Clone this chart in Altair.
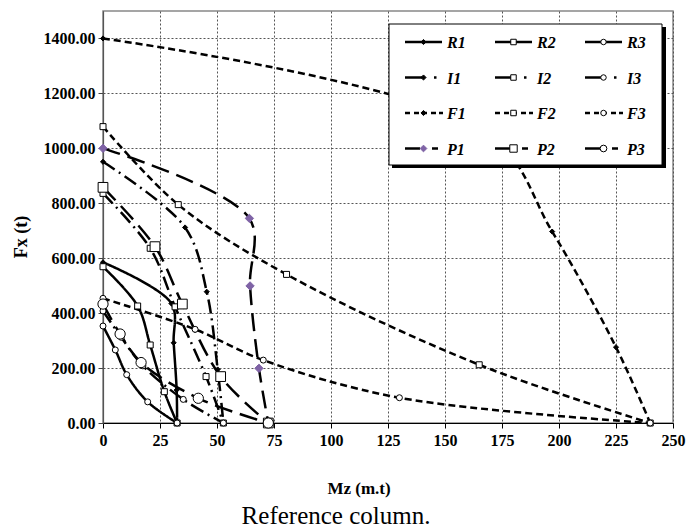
import altair as alt
import pandas as pd

FONT = "Liberation Serif"

SERIES = ["R1", "R2", "R3", "I1", "I2", "I3", "F1", "F2", "F3", "P1", "P2", "P3"]

R1_MZ = [0, 30, 31, 32.3, 32.5]
R1_FX = [585, 435, 292, 120, 0]
R2_MZ = [0, 15.2, 20.7, 26.9, 32.5]
R2_FX = [569, 426, 284, 114, 0]
R3_MZ = [0, 5.4, 10.4, 19.6, 32.5]
R3_FX = [353, 266, 176, 77, 0]
I1_MZ = [0, 36, 45.5, 50.3, 52.8]
I1_FX = [951, 712, 478, 195, 0]
I2_MZ = [0, 20.7, 31.6, 45.2, 52.8]
I2_FX = [836, 636, 423, 169, 0]
I3_MZ = [0, 8, 17.5, 35.2, 52.8]
I3_FX = [408, 312, 208, 86, 0]
F1_MZ = [0, 168, 197, 225, 240]
F1_FX = [1400, 1060, 697, 276, 0]
F2_MZ = [0, 33, 80.5, 165, 240]
F2_FX = [1079, 795, 541, 212, 0]
F3_MZ = [0, 40.4, 70.3, 130, 240]
F3_FX = [454, 341, 229, 92, 0]
P1_MZ = [0, 64.2, 64.5, 68.4, 72.5]
P1_FX = [1000, 745, 499, 199, 0]
P2_MZ = [0, 22.8, 34.8, 51.6, 72.5]
P2_FX = [858, 642, 433, 169, 0]
P3_MZ = [0, 7.5, 16.7, 41.8, 72.5]
P3_FX = [433, 324, 220, 90, 0]

X_TICKS = [0, 25, 50, 75, 100, 125, 150, 175, 200, 225, 250]
Y_TICKS = [0, 200, 400, 600, 800, 1000, 1200, 1400]

DATA = {
    "R1": (R1_MZ, R1_FX), "R2": (R2_MZ, R2_FX), "R3": (R3_MZ, R3_FX),
    "I1": (I1_MZ, I1_FX), "I2": (I2_MZ, I2_FX), "I3": (I3_MZ, I3_FX),
    "F1": (F1_MZ, F1_FX), "F2": (F2_MZ, F2_FX), "F3": (F3_MZ, F3_FX),
    "P1": (P1_MZ, P1_FX), "P2": (P2_MZ, P2_FX), "P3": (P3_MZ, P3_FX),
}

# styles
DASH = {"R": [1, 0], "I": [14, 5, 2, 5], "F": [7, 4], "P": [18, 8]}
PURPLE = "#7f63a6"


def marker_style(s, legend=False):
    fam, num = s[0], s[1]
    shape = {"1": "diamond", "2": "square", "3": "circle"}[num]
    if fam == "P":
        size = {"1": 70, "2": 95, "3": 105}[num]
        if legend:
            size = {"1": 45, "2": 55, "3": 45}[num]
        if num == "1":
            return shape, size, PURPLE, PURPLE
        return shape, size, "white", "black"
    size = {"1": 26, "2": 36, "3": 36}[num]
    if legend:
        size = {"1": 26, "2": 30, "3": 30}[num]
    if num == "1":
        return shape, size, "black", "black"
    return shape, size, "white", "black"


rows = []
for si, s in enumerate(SERIES):
    mz, fx = DATA[s]
    shape, size, fill, stroke = marker_style(s)
    for k, (a, b) in enumerate(zip(mz, fx)):
        rows.append({"series": s, "mz": a, "fx": b, "k": k, "so": si,
                     "shape": shape, "sz": size, "fill": fill, "stroke": stroke})
df = pd.DataFrame(rows)

x_enc = alt.X("mz:Q", scale=alt.Scale(domain=[0, 250], nice=False, zero=False),
              axis=alt.Axis(values=X_TICKS, title=None, labelFont=FONT, labelFontWeight="bold",
                            labelFontSize=16, labelColor="black", labelPadding=4, tickSize=5,
                            tickColor="black", domainColor="black", domainWidth=1.2,
                            grid=True, gridDash=[2, 2], gridColor="#555", gridWidth=1,
                            labelFlush=False))
y_enc = alt.Y("fx:Q", scale=alt.Scale(domain=[0, 1500], nice=False, zero=True),
              axis=alt.Axis(values=Y_TICKS, format=".2f", title=None, labelFont=FONT,
                            labelFontWeight="bold", labelFontSize=16, labelColor="black",
                            labelPadding=3, tickSize=5, tickColor="#444", domainColor="#555",
                            domainWidth=1.2, grid=True, gridDash=[2, 2], gridColor="#555",
                            gridWidth=1))

lines = alt.Chart(df).mark_line(interpolate="catmull-rom", strokeWidth=2.5, color="black").encode(
    x=x_enc, y=y_enc, detail="series:N", order="k:Q",
    strokeDash=alt.StrokeDash("series:N", scale=alt.Scale(domain=SERIES, range=[DASH[s[0]] for s in SERIES]),
                              legend=None),
)
points = alt.Chart(df).mark_point(filled=True, opacity=1, strokeWidth=1).encode(
    x=x_enc, y=y_enc,
    shape=alt.Shape("shape:N", scale=None),
    size=alt.Size("sz:Q", scale=None),
    fill=alt.Fill("fill:N", scale=None),
    stroke=alt.Stroke("stroke:N", scale=None),
    order=alt.Order("so:Q"),
)
data_layer = alt.layer(lines, points)

# ---- legend (pixel layout) ----
LEG_X0, LEG_Y0, COL_W, ROW_H = 302, 31, 90, 35.5
PIECES = {
    "R": [(0, 37)],
    "I": [(0, 17), (29, 31.5)],
    "F": [(0, 5), (9, 14), (17, 22), (26, 31), (34, 38)],
    "P": [(0, 15), (27, 33)],
}
seg_rows, lp_rows, lt_rows = [], [], []
for i, s in enumerate(SERIES):
    r, c = i // 3, i % 3
    bx = LEG_X0 + COL_W * c
    by = LEG_Y0 + ROW_H * r
    for a, b in PIECES[s[0]]:
        seg_rows.append({"lx": bx + a, "lx2": bx + b, "ly": by})
    shape, size, fill, stroke = marker_style(s, legend=True)
    lp_rows.append({"lx": bx + 18.5, "ly": by, "shape": shape, "sz": size, "fill": fill, "stroke": stroke})
    lt_rows.append({"lx": bx + 42, "ly": by + 1, "label": s})

one = pd.DataFrame({"a": [0]})
shadow = alt.Chart(one).mark_rect(color="black").encode(
    x=alt.value(289), x2=alt.value(563), y=alt.value(16), y2=alt.value(157))
box = alt.Chart(one).mark_rect(fill="white", stroke="black", strokeWidth=1).encode(
    x=alt.value(286), x2=alt.value(559), y=alt.value(13), y2=alt.value(154))
segs = alt.Chart(pd.DataFrame(seg_rows)).mark_rule(strokeWidth=2.5, color="black").encode(
    x=alt.X("lx:Q", scale=None, axis=None), x2="lx2:Q", y=alt.Y("ly:Q", scale=None, axis=None))
lpts = alt.Chart(pd.DataFrame(lp_rows)).mark_point(filled=True, opacity=1, strokeWidth=1).encode(
    x=alt.X("lx:Q", scale=None, axis=None), y=alt.Y("ly:Q", scale=None, axis=None),
    shape=alt.Shape("shape:N", scale=None), size=alt.Size("sz:Q", scale=None),
    fill=alt.Fill("fill:N", scale=None), stroke=alt.Stroke("stroke:N", scale=None))
ltxt = alt.Chart(pd.DataFrame(lt_rows)).mark_text(
    font=FONT, fontStyle="italic", fontWeight="bold", fontSize=16, align="left", baseline="middle",
    color="black").encode(
    x=alt.X("lx:Q", scale=None, axis=None), y=alt.Y("ly:Q", scale=None, axis=None), text="label:N")

# ---- titles ----
ytitle = alt.Chart(one).mark_text(font=FONT, fontWeight="bold", fontSize=18, angle=270,
                                  align="center", baseline="middle", color="black").encode(
    x=alt.value(-81), y=alt.value(226), text=alt.value("Fx  (t)"))
xtitle = alt.Chart(one).mark_text(font=FONT, fontWeight="bold", fontSize=17,
                                  align="center", baseline="middle", color="black").encode(
    x=alt.value(256), y=alt.value(478), text=alt.value("Mz (m.t)"))
caption = alt.Chart(one).mark_text(font=FONT, fontSize=25, align="center", baseline="middle",
                                   color="black").encode(
    x=alt.value(233), y=alt.value(505), text=alt.value("Reference column."))

chart = alt.layer(data_layer, shadow, box, segs, lpts, ltxt, ytitle, xtitle, caption).resolve_scale(
    x="independent", y="independent"
).properties(
    width=570, height=412,
    autosize=alt.AutoSizeParams(type="none"),
    padding={"left": 103, "top": 11, "right": 26, "bottom": 106},
    background="white",
).configure_view(stroke="#888", strokeWidth=1.5)

chart.save("out.html", embed_options={"renderer": "svg", "actions": False})
